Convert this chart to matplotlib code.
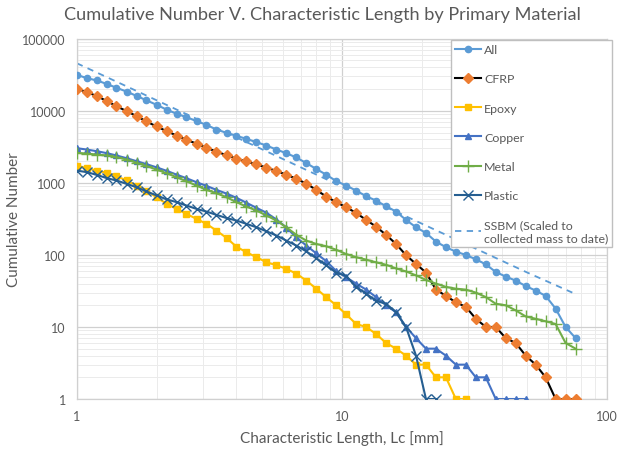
"""
Cumulative number vs characteristic length by primary material (log-log).
"""

import matplotlib.pyplot as plt
from matplotlib.ticker import FixedLocator, FixedFormatter, NullFormatter, LogLocator

plt.rcParams['font.family'] = ['Lato', 'DejaVu Sans']

# Characteristic length bins [mm] (2^(n/8) spacing)
lc_bins = [1.00, 1.09, 1.19, 1.30, 1.41, 1.54, 1.68, 1.83, 2.00, 2.18,
           2.38, 2.59, 2.83, 3.08, 3.36, 3.67, 4.00, 4.36, 4.76, 5.19,
           5.66, 6.17, 6.73, 7.34, 8.00, 8.72, 9.51, 10.37, 11.31, 12.34,
           13.45, 14.67, 16.00, 17.45, 19.03, 20.75, 22.63, 24.68, 26.91, 29.34,
           32.00, 34.90, 38.05, 41.50, 45.25, 49.35, 53.82, 58.69, 64.00, 69.79,
           76.11]

all_counts = [31600, 28400, 26400, 23500, 20900, 18500, 16100, 14000, 12100, 10400,
              9080, 8170, 7190, 6390, 5500, 4950, 4500, 4080, 3670, 3300,
              2900, 2580, 2250, 1880, 1560, 1300, 1060, 918, 782, 653,
              568, 474, 400, 306, 242, 202, 153, 128, 111, 100,
              87, 74, 58, 50, 44, 37, 32, 27, 18, 10,
              7]

cfrp_counts = [20200, 18200, 16000, 13600, 11600, 9900, 8440, 7110, 6060, 5220,
               4540, 3960, 3500, 3070, 2720, 2420, 2170, 1980, 1800, 1630,
               1460, 1300, 1140, 975, 800, 646, 540, 459, 383, 306,
               247, 190, 142, 99, 75, 57, 33, 27, 22, 19,
               13, 10, 10, 7, 6, 4, 3, 2, 1, 1,
               1]

epoxy_counts = [1740, 1600, 1480, 1380, 1240, 1080, 918, 782, 632, 511,
                435, 371, 316, 270, 218, 172, 130, 109, 93, 79,
                72, 64, 55, 44, 34, 26, 20, 15, 11, 10,
                8, 6, 5, 4, 3, 3, 2, 2, 1, 1]

copper_counts = [3030, 2900, 2750, 2580, 2400, 2200, 2000, 1820, 1640, 1470,
                 1300, 1160, 1020, 910, 800, 710, 620, 530, 450, 385,
                 310, 240, 175, 135, 105, 82, 60, 49, 40, 33,
                 26, 20, 16, 10, 7, 5, 5, 4, 3, 3,
                 2, 2, 1, 1, 1, 1]

metal_counts = [2610, 2550, 2470, 2400, 2270, 2110, 1900, 1710, 1530, 1360,
                1200, 1050, 918, 800, 718, 632, 539, 469, 413, 352,
                300, 242, 190, 158, 142, 132, 118, 103, 93, 86,
                79, 73, 65, 59, 52, 45, 40, 36, 34, 33,
                30, 26, 21, 20, 17, 14, 13, 12, 11, 6,
                5]

plastic_counts = [1480, 1410, 1290, 1160, 1080, 970, 870, 760, 670, 590,
                  540, 485, 435, 400, 360, 325, 300, 270, 242, 213,
                  186, 158, 135, 112, 90, 72, 57, 51, 36, 29,
                  23, 21, 16, 10, 4, 1, 1]

# SSBM model line (scaled to collected mass), read at a few lengths
ssbm_lc = [1, 2, 5, 10, 20, 50, 74]
ssbm_counts = [45700, 14000, 2920, 890, 272, 57, 30]

series = [
    ('All', all_counts, dict(color='#5B9BD5', marker='o', markersize=4.5,
                             markerfacecolor='#5B9BD5', markeredgecolor='#5B9BD5')),
    ('CFRP', cfrp_counts, dict(color='black', marker='D', markersize=4.8,
                               markerfacecolor='#ED7D31', markeredgecolor='#ED7D31')),
    ('Epoxy', epoxy_counts, dict(color='#FFC000', marker='s', markersize=4.3,
                                 markerfacecolor='#FFC000', markeredgecolor='#FFC000')),
    ('Copper', copper_counts, dict(color='#4472C4', marker='^', markersize=4.3,
                                   markerfacecolor='#4472C4', markeredgecolor='#4472C4')),
    ('Metal', metal_counts, dict(color='#70AD47', marker='+', markersize=8,
                                 markeredgewidth=1.0, markeredgecolor='#70AD47')),
    ('Plastic', plastic_counts, dict(color='#255E91', marker='x', markersize=6.5,
                                     markeredgewidth=1.0, markeredgecolor='#255E91')),
]

fig = plt.figure(figsize=(6.2, 4.52), dpi=100)
ax = fig.add_axes([0.124, 0.115, 0.855, 0.797])

for name, counts, style in series:
    ax.plot(lc_bins[:len(counts)], counts, linewidth=1.5, label=name, zorder=3, **style)

ax.plot(ssbm_lc, ssbm_counts, color='#5B9BD5', linestyle=(0, (3.5, 3)), linewidth=1.3,
        label='SSBM (Scaled to\ncollected mass to date)', zorder=2)

ax.set_xscale('log')
ax.set_yscale('log')
ax.set_xlim(1, 100)
ax.set_ylim(1, 100000)

ax.xaxis.set_major_locator(FixedLocator([1, 10, 100]))
ax.xaxis.set_major_formatter(FixedFormatter(['1', '10', '100']))
ax.yaxis.set_major_locator(FixedLocator([1, 10, 100, 1000, 10000, 100000]))
ax.yaxis.set_major_formatter(FixedFormatter(['1', '10', '100', '1000', '10000', '100000']))
ax.xaxis.set_minor_locator(LogLocator(base=10, subs=range(2, 10)))
ax.yaxis.set_minor_locator(LogLocator(base=10, subs=range(2, 10)))
ax.xaxis.set_minor_formatter(NullFormatter())
ax.yaxis.set_minor_formatter(NullFormatter())

ax.tick_params(which='both', length=0, labelsize=9, labelcolor='#595959', pad=8)
ax.grid(which='major', color='#D0D0D0', linewidth=0.9)
ax.grid(which='minor', color='#EBEBEB', linewidth=0.7)
ax.set_axisbelow(True)
for sp in ax.spines.values():
    sp.set_color('#D0D0D0')
    sp.set_linewidth(0.9)

fig.suptitle('Cumulative Number V. Characteristic Length by Primary Material',
             x=0.52, y=0.985, va='top', fontsize=13.1, color='#595959')
ax.set_xlabel('Characteristic Length, Lc [mm]', fontsize=11, color='#595959', labelpad=6)
ax.set_ylabel('Cumulative Number', fontsize=11, color='#595959', labelpad=1)

leg = ax.legend(loc='upper left', bbox_to_anchor=(0.706, 0.997), numpoints=1,
                fontsize=8.9, labelspacing=1.47, handlelength=2.1, handletextpad=0.2,
                borderpad=0.35, borderaxespad=0, frameon=True, fancybox=False,
                edgecolor='#BFBFBF', framealpha=1)
for t in leg.get_texts():
    t.set_color('#595959')

plt.savefig('out.png', dpi=100)
plt.close()
